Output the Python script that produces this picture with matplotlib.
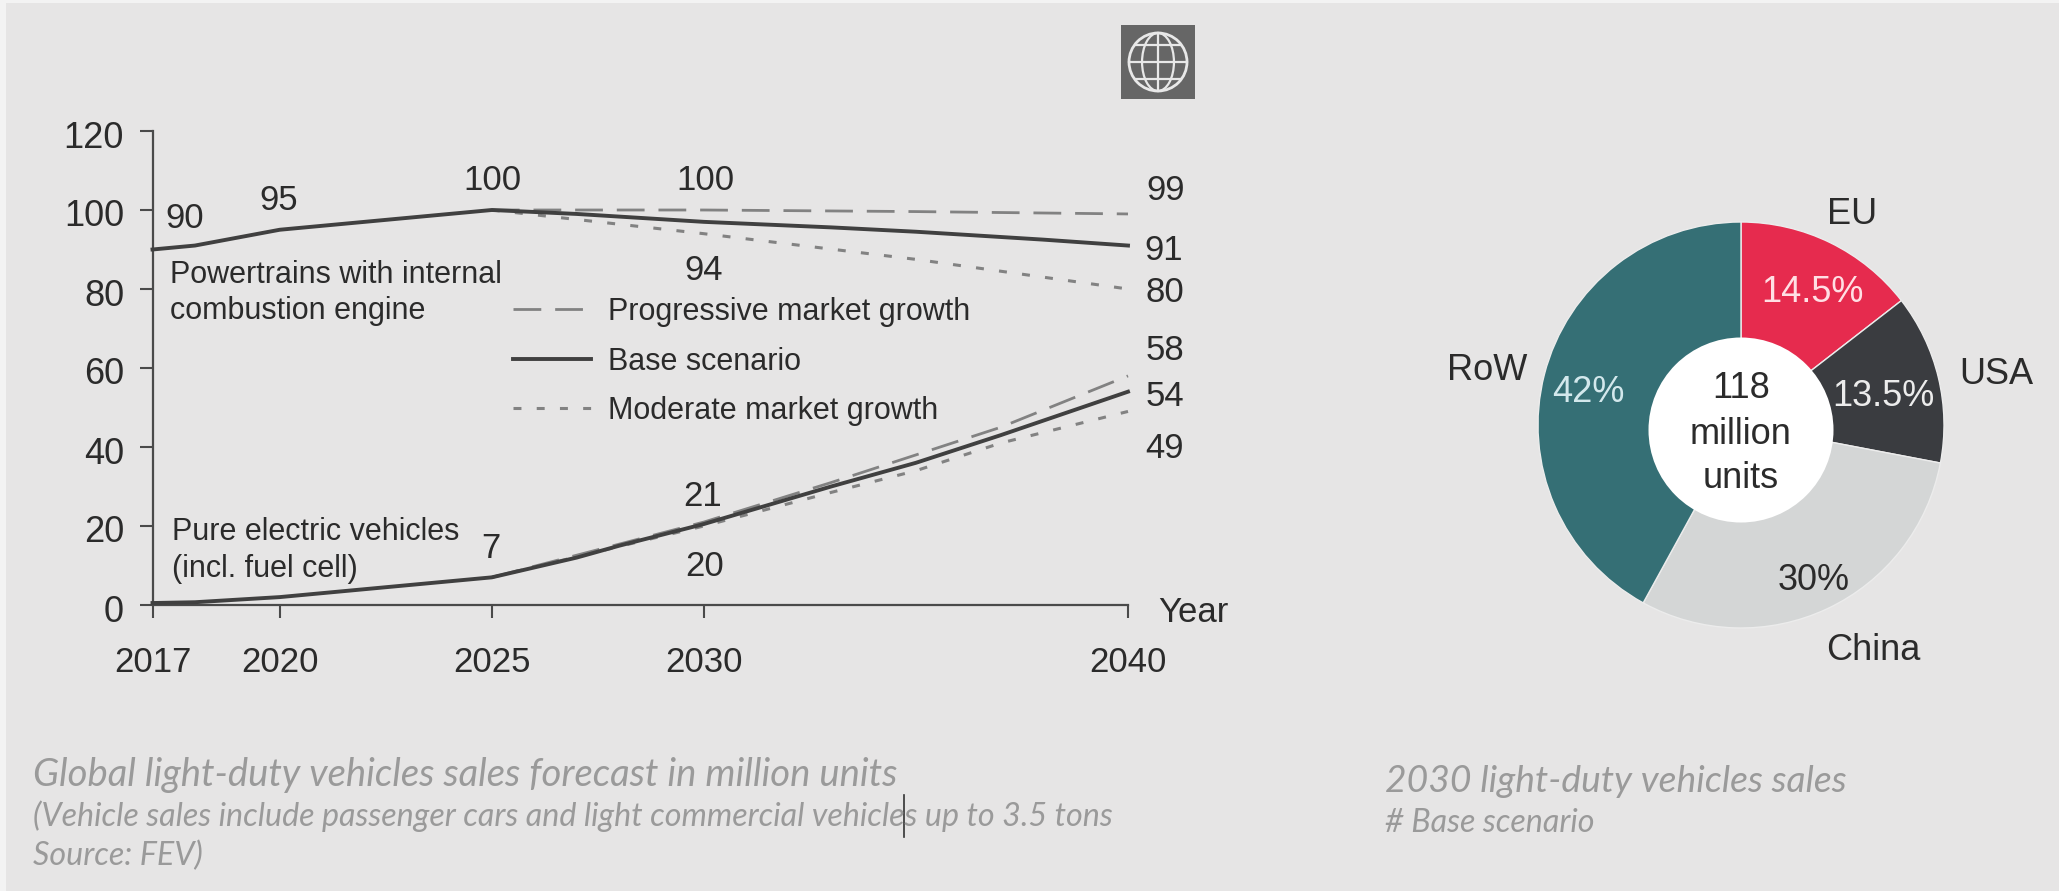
import matplotlib
matplotlib.use('Agg')
import matplotlib.pyplot as plt
from matplotlib.lines import Line2D
from matplotlib.patches import Circle, Ellipse, Rectangle
from matplotlib.transforms import ScaledTranslation

W, H = 2059, 891

# forecast, million units
years_base_ice = [2017, 2018, 2020, 2025, 2027, 2030, 2033, 2035, 2038, 2040]
base_ice = [90, 91, 95, 100, 99, 97, 95.6, 94.5, 92.5, 91]
years_prog_ice = [2025, 2030, 2035, 2040]
prog_ice = [100, 100, 99.6, 99]
years_mod_ice = [2025, 2030, 2035, 2040]
mod_ice = [100, 94, 87.5, 80]

years_base_ev = [2017, 2018, 2020, 2025, 2027, 2028, 2030, 2033, 2035, 2037, 2040]
base_ev = [0.5, 0.7, 2, 7, 12, 15, 20.5, 30, 36, 43, 54]
years_prog_ev = [2025, 2030, 2033, 2035, 2037, 2040]
prog_ev = [7, 21, 31, 38, 45, 58]
years_mod_ev = [2025, 2030, 2033, 2035, 2037, 2040]
mod_ev = [7, 20, 28.5, 34, 41, 49]

year_ticks = [2017, 2020, 2025, 2030, 2040]
value_ticks = [0, 20, 40, 60, 80, 100, 120]

regions = ['EU', 'USA', 'China', 'RoW']
shares = [14.5, 13.5, 30, 42]
share_labels = ['14.5%', '13.5%', '30%', '42%']
region_colors = ['#e62b4e', '#3a3c40', '#d4d6d6', '#356f75']

DARK = '#2b2b2b'
plt.rcParams['font.family'] = ['Liberation Sans', 'DejaVu Sans']


def px_box(x0, y0, x1, y1):
    return [x0 / W, 1 - y1 / H, (x1 - x0) / W, (y1 - y0) / H]


def px_axes(zorder):
    a = fig.add_axes([0, 0, 1, 1], zorder=zorder)
    a.set_xlim(0, W)
    a.set_ylim(H, 0)
    a.axis('off')
    a.patch.set_alpha(0)
    return a


fig = plt.figure(figsize=(W / 100, H / 100), dpi=100, facecolor='#f3f3f3')

back = px_axes(0)
back.add_patch(Rectangle((6, 3), W, H, color='#e6e5e5', lw=0))

# line chart
ax = fig.add_axes(px_box(152.5, 131, 1128, 605), zorder=1)
ax.patch.set_alpha(0)
ax.set_xlim(2017, 2040)
ax.set_ylim(0, 120)
for s in ['top', 'right']:
    ax.spines[s].set_visible(False)
for s in ['left', 'bottom']:
    ax.spines[s].set_color('#4a4a4a')
    ax.spines[s].set_linewidth(1.6)
ax.set_xticks(year_ticks)
ax.set_yticks(value_ticks)
ax.tick_params(axis='both', length=9.5, width=1.5, color='#4a4a4a', labelcolor=DARK)
ax.tick_params(axis='y', pad=11, labelsize=26)
ax.tick_params(axis='x', pad=20, labelsize=25)
# nudge the value axis labels down a little
nudge = ScaledTranslation(0, -3 / 100, fig.dpi_scale_trans)
for lab in ax.get_yticklabels():
    lab.set_transform(lab.get_transform() + nudge)

dash = (0, (10, 5))
dots = (0, (2.6, 5))
l_base, = ax.plot(years_base_ice, base_ice, color='#404040', lw=2.8, clip_on=False, zorder=3,
                  label='Base scenario')
l_prog, = ax.plot(years_prog_ice, prog_ice, color='#828282', lw=2, ls=dash, clip_on=False,
                  label='Progressive market growth')
l_mod, = ax.plot(years_mod_ice, mod_ice, color='#828282', lw=2.2, ls=dots, clip_on=False,
                 label='Moderate market growth')
ax.plot(years_base_ev, base_ev, color='#404040', lw=2.8, clip_on=False, zorder=3)
ax.plot(years_prog_ev, prog_ev, color='#828282', lw=2, ls=dash, clip_on=False)
ax.plot(years_mod_ev, mod_ev, color='#828282', lw=2.2, ls=dots, clip_on=False)

# donut
pie_ax = fig.add_axes(px_box(1531, 215, 1951, 635), zorder=1)
pie_ax.patch.set_alpha(0)
pie_ax.pie(shares, colors=region_colors, startangle=90, counterclock=False,
           wedgeprops={'edgecolor': '#ececec', 'linewidth': 1})
pie_ax.set_xlim(-210 / 203, 210 / 203)
pie_ax.set_ylim(-210 / 203, 210 / 203)

top = px_axes(2)
top.add_patch(Circle((1741, 430), 92.5, color='white', lw=0))

leg = ax.legend(handles=[l_prog, l_base, l_mod], loc='upper left', frameon=False, fontsize=22,
                bbox_to_anchor=(513 / W, 1 - 297 / H), bbox_transform=fig.transFigure,
                borderpad=0, borderaxespad=0, handlelength=2.55, handletextpad=0.55,
                labelspacing=0.64, labelcolor=DARK)

# value labels at the ends of the curves
value_labels = ['90', '95', '100', '100', '94', '99', '91', '80', '58', '54', '49', '21', '20', '7']
label_x = [185, 279, 492, 705, 704, 1166, 1164, 1165, 1165, 1165, 1165, 703, 705, 491]
label_y = [218, 200, 180, 180, 271, 191, 250, 293, 350, 397, 448, 496, 566, 548]
for t, x, y in zip(value_labels, label_x, label_y):
    top.text(x, y, t, fontsize=25, color=DARK, ha='center', va='center')

top.text(1158, 613, 'Year', fontsize=25, color=DARK, ha='left', va='center')
top.text(170, 275, 'Powertrains with internal', fontsize=22, color=DARK, va='center')
top.text(170, 311, 'combustion engine', fontsize=22, color=DARK, va='center')
top.text(172, 532, 'Pure electric vehicles', fontsize=22, color=DARK, va='center')
top.text(172, 569, '(incl. fuel cell)', fontsize=22, color=DARK, va='center')

# donut labels
region_x = [1852, 1996, 1873, 1487]
region_y = [215, 375, 650, 371]
for t, x, y in zip(regions, region_x, region_y):
    top.text(x, y, t, fontsize=26, color=DARK, ha='center', va='center')

share_x = [1812, 1883, 1814, 1588]
share_y = [293, 396, 580, 393]
share_colors = ['#ffdfe4', '#ececec', DARK, '#d3e8ec']
for t, x, y, c in zip(share_labels, share_x, share_y, share_colors):
    top.text(x, y, t, fontsize=26, color=c, ha='center', va='center')

for t, y in zip(['118', 'million', 'units'], [388, 434, 479]):
    top.text(1741, y, t, fontsize=26, color=DARK, ha='center', va='center')

# captions
cap = {'family': ['Lato', 'DejaVu Sans'], 'style': 'italic', 'weight': 'normal', 'color': '#9a9a9a'}
top.text(33, 786, 'Global light-duty vehicles sales forecast in million units', fontsize=27.5, va='baseline', **cap)
top.text(33, 826, '(Vehicle sales include passenger cars and light commercial vehicles up to 3.5 tons',
         fontsize=23.2, va='baseline', **cap)
top.text(33, 865, 'Source: FEV)', fontsize=23.2, va='baseline', **cap)
top.text(1385, 792, '2030 light-duty vehicles sales', fontsize=26.8, va='baseline', **cap)
top.text(1385, 832, '# Base scenario', fontsize=23.2, va='baseline', **cap)
top.plot([904, 904], [795, 837], color='#333333', lw=1.2)

# globe icon
gx, gy, gr = 1158, 62, 29
top.add_patch(Rectangle((1121, 25), 74, 74, color='#666666', lw=0))
top.add_patch(Circle((gx, gy), gr, fill=False, ec='#e8e8e8', lw=2))
top.add_patch(Ellipse((gx, gy), gr * 1.1, gr * 2, fill=False, ec='#e8e8e8', lw=1.6))
top.add_line(Line2D([gx, gx], [gy - gr, gy + gr], color='#e8e8e8', lw=1.6))
for dy, half in [(-17, 23), (0, 29), (17, 23)]:
    top.add_line(Line2D([gx - half, gx + half], [gy + dy, gy + dy], color='#e8e8e8', lw=1.6))

fig.savefig('out.png', dpi=100, facecolor=fig.get_facecolor())
